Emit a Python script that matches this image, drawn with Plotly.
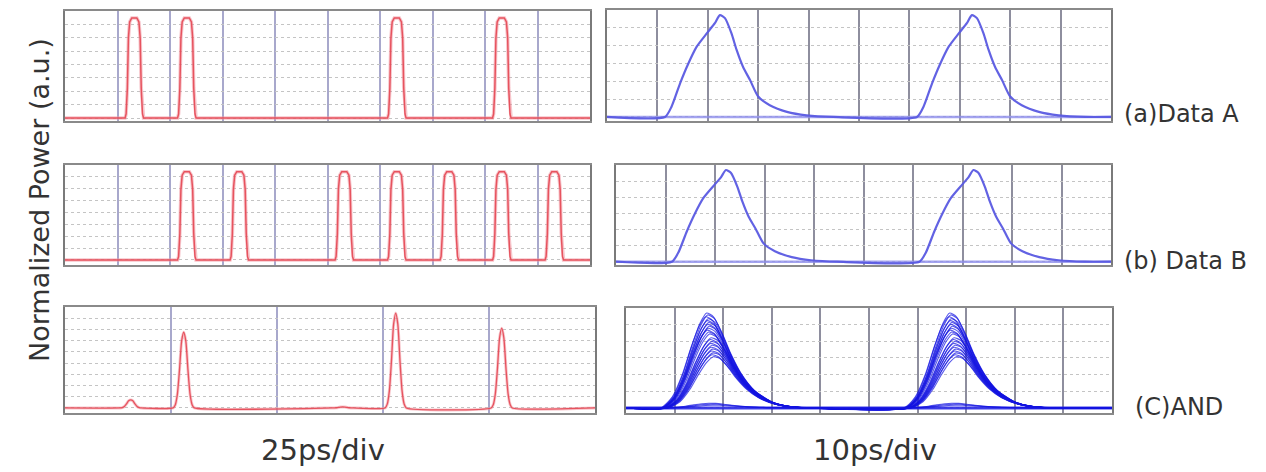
import plotly.graph_objects as go

# ---------------- data ----------------
# 25 ps/div panels: bit slots
bit_centers_ps = [8, 33, 58, 83, 108, 133, 158, 183, 208, 233]
data_A_bits = [0, 1, 1, 0, 0, 0, 1, 0, 1, 0]
data_B_bits = [0, 0, 1, 1, 0, 1, 1, 1, 1, 1]
and_centers_ps = [7, 31, 56, 81, 106, 131, 156, 181, 206, 231]
and_out_levels = [0, 0.08, 0.75, 0, 0, 0.01, 0.94, 0, 0.79, 0]

# flat-top input pulse profile (offset in ps, normalized level)
input_pulse_offset = [-4.4, -3.9, -3.3, -2.8, -2.2, -1.2, 0, 1.2, 2.2, 2.8, 3.3, 3.9, 4.4]
input_pulse_level = [0, 0.04, 0.30, 0.80, 0.96, 1.0, 1.0, 1.0, 0.96, 0.80, 0.30, 0.04, 0]

# AND output pulse profile (25 ps/div)
and_pulse_offset = [-5, -4, -3, -2, -1, 0, 1, 2, 3, 4, 5]
and_pulse_level = [0, 0.04, 0.18, 0.5, 0.88, 1.0, 0.88, 0.5, 0.18, 0.04, 0]

# 10 ps/div panels: input pulse shape (offset from pulse start, ps)
zoom_in_offset = [0, 1.3, 3.0, 4.6, 6.3, 8.3, 9.9, 10.9, 11.9, 13.2, 14.2, 15.5,
                  16.9, 18.5, 20.8, 24.2, 28.1, 33.4]
zoom_in_level = [0, 0.10, 0.33, 0.52, 0.69, 0.82, 0.92, 1.0, 0.97, 0.82, 0.66, 0.49,
                 0.36, 0.20, 0.115, 0.05, 0.016, 0]
zoom_A_starts_ps = [11.5, 61.5]
zoom_B_starts_ps = [11.3, 61.3]

# 10 ps/div AND eye: pulse shape and the overlaid trace amplitudes / delays
zoom_and_offset = [0, 2.4, 4.5, 6.2, 7.9, 9.3, 10.7, 12.4, 14.1, 16.2, 18.9, 22.3, 25.8, 29.9]
zoom_and_level = [0, 0.12, 0.37, 0.65, 0.89, 1.0, 0.96, 0.79, 0.58, 0.37, 0.19, 0.07, 0.018, 0]
zoom_and_starts_ps = [7.3, 57.3]
eye_amps = [1.00, 0.98, 0.96, 0.94, 0.92, 0.90, 0.88, 0.86, 0.84, 0.82, 0.80, 0.78,
            0.74, 0.72, 0.70, 0.68, 0.66, 0.64, 0.62, 0.60, 0.58, 0.56, 0.54,
            0.05, 0.04, 0.03]
eye_delays_ps = [0.0, 0.2, -0.2, 0.3, 0.1, 0.4, 0.2, 0.5, 0.3, 0.1, 0.4, 0.6,
                 0.9, 0.7, 1.0, 0.8, 1.1, 0.9, 1.2, 1.0, 1.3, 1.1, 1.4,
                 0.4, 0.8, 1.2]

row_labels = ["(a)Data A", "(b) Data B", "(C)AND"]
y_title = "Normalized Power (a.u.)"
x_titles = ["25ps/div", "10ps/div"]

# ---------------- layout config ----------------
W, H = 1266, 472


def fx(p):
    return p / W


def fy(p):
    return 1 - p / H


# panel boxes in pixels: (x0, x1, y_top, y_bottom), y-range, n horizontal divisions
panels = {
    "L1": dict(box=(65, 590, 11, 121), xr=(0, 250), xd=25, yr=(-0.03, 1.07), ny=8),
    "L2": dict(box=(65, 590, 165, 265), xr=(0, 250), xd=25, yr=(-0.057, 1.076), ny=8),
    "L3": dict(box=(65, 595, 307, 413), xr=(0, 250), xd=50, yr=(-0.05, 1.0), ny=9),
    "R1": dict(box=(607, 1111, 10, 121), xr=(0, 100), xd=10, yr=(-0.04, 1.05), ny=6),
    "R2": dict(box=(616, 1111, 165, 265), xr=(0, 100), xd=10, yr=(-0.036, 1.055), ny=6),
    "R3": dict(box=(626, 1112, 308, 413), xr=(0, 100), xd=10, yr=(-0.053, 1.053), ny=6),
}
order = ["L1", "L2", "L3", "R1", "R2", "R3"]

fig = go.Figure()
layout = dict(width=W, height=H, margin=dict(l=0, r=0, t=0, b=0),
              paper_bgcolor="white", plot_bgcolor="white", showlegend=False)

for i, key in enumerate(order):
    p = panels[key]
    x0, x1, yt, yb = p["box"]
    n = "" if i == 0 else str(i + 1)
    left = key.startswith("L")
    vcol = "#a8a8cc" if left else "#8e8e9e"
    layout["xaxis" + n] = dict(
        domain=[fx(x0), fx(x1)], range=list(p["xr"]), anchor="y" + n,
        showticklabels=False, ticks="", dtick=p["xd"], tick0=0,
        showgrid=True, gridcolor=vcol, gridwidth=2,
        showline=True, mirror=True, linecolor="#8a8a8a", linewidth=2,
        zeroline=False, fixedrange=True)
    y0, y1 = p["yr"]
    layout["yaxis" + n] = dict(
        domain=[fy(yb), fy(yt)], range=[y0, y1], anchor="x" + n,
        showticklabels=False, ticks="", tick0=0, dtick=(y1) / p["ny"],
        showgrid=True, gridcolor="#c4c4c4", gridwidth=1, griddash="dot",
        showline=True, mirror=True, linecolor="#7a7a7a", linewidth=2,
        zeroline=False, fixedrange=True)


def build_train(centers, levels, offs, prof, xmax, x0=0.0):
    xs, ys = [x0], [0.0]
    for c, a in zip(centers, levels):
        if a <= 0:
            continue
        for o, v in zip(offs, prof):
            xs.append(c + o)
            ys.append(a * v)
    xs.append(xmax)
    ys.append(0.0)
    return xs, ys


red = "rgba(228,70,82,0.9)"
pink = "rgba(240,150,160,0.55)"

# L1: Data A
xa, ya = build_train(bit_centers_ps, data_A_bits, input_pulse_offset, input_pulse_level, 250)
fig.add_trace(go.Scatter(x=xa, y=ya, mode="lines", line=dict(color=pink, width=3.5),
                         xaxis="x", yaxis="y", hoverinfo="skip"))
fig.add_trace(go.Scatter(x=xa, y=ya, mode="lines", line=dict(color=red, width=1.5),
                         xaxis="x", yaxis="y", hoverinfo="skip"))
# L2: Data B
xb, yb_ = build_train(bit_centers_ps, data_B_bits, input_pulse_offset, input_pulse_level, 250)
fig.add_trace(go.Scatter(x=xb, y=yb_, mode="lines", line=dict(color=pink, width=3.5),
                         xaxis="x2", yaxis="y2", hoverinfo="skip"))
fig.add_trace(go.Scatter(x=xb, y=yb_, mode="lines", line=dict(color=red, width=1.5),
                         xaxis="x2", yaxis="y2", hoverinfo="skip"))
# L3: AND output
xc, yc = build_train(and_centers_ps, and_out_levels, and_pulse_offset, and_pulse_level, 250)
fig.add_trace(go.Scatter(x=xc, y=yc, mode="lines",
                         line=dict(color=pink, width=3, shape="spline", smoothing=0.6),
                         xaxis="x3", yaxis="y3", hoverinfo="skip"))
fig.add_trace(go.Scatter(x=xc, y=yc, mode="lines",
                         line=dict(color=red, width=1.3, shape="spline", smoothing=0.6),
                         xaxis="x3", yaxis="y3", hoverinfo="skip"))

blue = "rgba(90,90,225,0.95)"
# R1, R2
for starts, ax in ((zoom_A_starts_ps, "4"), (zoom_B_starts_ps, "5")):
    xs, ys = build_train(starts, [1] * len(starts), zoom_in_offset, zoom_in_level, 100)
    fig.add_trace(go.Scatter(x=[0, 100], y=[0, 0], mode="lines",
                             line=dict(color="rgba(140,140,235,0.8)", width=2.5),
                             xaxis="x" + ax, yaxis="y" + ax, hoverinfo="skip"))
    fig.add_trace(go.Scatter(x=xs, y=ys, mode="lines",
                             line=dict(color=blue, width=2.2, shape="spline", smoothing=0.6),
                             xaxis="x" + ax, yaxis="y" + ax, hoverinfo="skip"))

# R3: overlaid AND traces
fig.add_trace(go.Scatter(x=[0, 100], y=[0, 0], mode="lines",
                         line=dict(color="rgba(40,40,230,0.9)", width=3),
                         xaxis="x6", yaxis="y6", hoverinfo="skip"))
for a, d in zip(eye_amps, eye_delays_ps):
    starts = [s + d for s in zoom_and_starts_ps]
    xs, ys = build_train(starts, [a] * len(starts), zoom_and_offset, zoom_and_level, 100)
    fig.add_trace(go.Scatter(x=xs, y=ys, mode="lines",
                             line=dict(color="rgba(20,20,225,0.7)", width=1.1,
                                       shape="spline", smoothing=0.6),
                             xaxis="x6", yaxis="y6", hoverinfo="skip"))

txt_font = dict(family="DejaVu Sans, Verdana, sans-serif", color="#333333")
ann = []
ann.append(dict(x=fx(39), y=fy(200), xref="paper", yref="paper", text=y_title,
                textangle=-90, xanchor="center", yanchor="middle", showarrow=False,
                font=dict(size=27, **txt_font)))
label_pos = [(1122, 114), (1122, 261), (1133, 407)]
for t, (px, py) in zip(row_labels, label_pos):
    ann.append(dict(x=fx(px), y=fy(py), xref="paper", yref="paper", text=t,
                    xanchor="left", yanchor="middle", showarrow=False,
                    font=dict(size=24, **txt_font)))
for t, (px, py) in zip(x_titles, [(323, 450), (875, 450)]):
    ann.append(dict(x=fx(px), y=fy(py), xref="paper", yref="paper", text=t,
                    xanchor="center", yanchor="middle", showarrow=False,
                    font=dict(size=29, **txt_font)))
layout["annotations"] = ann

fig.update_layout(**layout)
fig.write_html("out.html", config={"displayModeBar": False},
               post_script="document.body.style.margin='0';")
